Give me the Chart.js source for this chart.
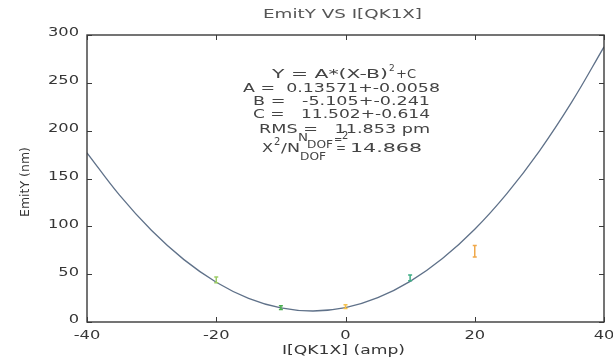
<!DOCTYPE html>
<html>
<head>
<meta charset="utf-8">
<script src="https://cdn.jsdelivr.net/npm/chart.js@4.4.1/dist/chart.umd.min.js"></script>
<style>
  html, body { margin: 0; background: #fff; }
  #wrap { width: 613px; height: 361px; }
</style>
</head>
<body>
<div id="wrap"><canvas id="emitChart" width="613" height="361"></canvas></div>
<script>
// ===== DATA =====
// parabola fit, sampled every 5 amp
const fitX = [-40, -35, -30, -25, -20, -15, -10, -5, 0, 5, 10, 15, 20, 25, 30, 35, 40];
const fitY = [176.8, 132.8, 95.6, 65.2, 41.6, 24.8, 14.8, 11.5, 15.0, 25.4, 42.5, 66.4, 97.0, 134.5, 178.7, 229.8, 287.6];

// measured emittance with error bars
const measX = [-20, -10, 0, 10, 20];
const measY = [44, 15, 16, 46, 74];
const measErr = [3, 2, 2, 3, 6];
const measColors = ["#9ccc65", "#4caf50", "#f5c04a", "#3fae86", "#f0a84a"];

const xTicks = [-40, -20, 0, 20, 40];
const yTicks = [0, 50, 100, 150, 200, 250, 300];

const titleText = "EmitY VS I[QK1X]";
const xTitle = "I[QK1X] (amp)";
const yTitle = "EmitY (nm)";

const FONT = "DejaVu Sans";
const TEXT_COLOR = "#363636";

// draw text squeezed/stretched horizontally to span x0..x1
function fitText(ctx, str, x0, x1, y) {
  const w = ctx.measureText(str).width;
  ctx.save();
  ctx.translate(x0, y);
  ctx.scale((x1 - x0) / w, 1);
  ctx.textAlign = "left";
  ctx.fillText(str, 0, 0);
  ctx.restore();
}

// stretched text centred on cx
function wideText(ctx, str, cx, y, k) {
  const w = ctx.measureText(str).width * k;
  fitText(ctx, str, cx - w / 2, cx + w / 2, y);
}

// ===== FRAME, TICKS, LABELS =====
const framePlugin = {
  id: "frame",
  afterDraw(chart) {
    const { ctx, chartArea: a, scales: { x, y } } = chart;
    ctx.save();
    ctx.strokeStyle = "#3a3a3a";
    ctx.lineWidth = 1.4;
    ctx.strokeRect(a.left, a.top, a.right - a.left, a.bottom - a.top);

    ctx.lineWidth = 1;
    ctx.beginPath();
    xTicks.forEach(v => {
      const px = Math.round(x.getPixelForValue(v)) + 0.5;
      ctx.moveTo(px, a.bottom); ctx.lineTo(px, a.bottom - 5);
      ctx.moveTo(px, a.top); ctx.lineTo(px, a.top + 5);
    });
    yTicks.forEach(v => {
      const py = Math.round(y.getPixelForValue(v)) + 0.5;
      ctx.moveTo(a.left, py); ctx.lineTo(a.left + 5, py);
      ctx.moveTo(a.right, py); ctx.lineTo(a.right - 5, py);
    });
    ctx.stroke();

    // tick labels
    ctx.fillStyle = TEXT_COLOR;
    ctx.font = `13px "${FONT}"`;
    ctx.textBaseline = "middle";
    xTicks.forEach(v => {
      wideText(ctx, String(v), x.getPixelForValue(v), a.bottom + 14, 1.25);
    });
    yTicks.forEach(v => {
      const s = String(v);
      const w = ctx.measureText(s).width * 1.25;
      fitText(ctx, s, a.left - 8 - w, a.left - 8, y.getPixelForValue(v) - 2);
    });

    // titles
    ctx.fillStyle = "#555";
    ctx.font = `13px "${FONT}"`;
    fitText(ctx, titleText, 263, 422, 15);
    ctx.fillStyle = TEXT_COLOR;
    fitText(ctx, xTitle, 282, 405, 351);
    ctx.save();
    ctx.translate(26, 182);
    ctx.rotate(-Math.PI / 2);
    ctx.font = `12.5px "${FONT}"`;
    ctx.textAlign = "center";
    ctx.fillText(yTitle, 0, 0);
    ctx.restore();

    // fit results
    ctx.fillStyle = "#444";
    ctx.font = `13px "${FONT}"`;
    fitText(ctx, "Y = A*(X-B)", 272, 388, 75);
    ctx.font = `9px "${FONT}"`;
    ctx.fillText("2", 389, 69);
    ctx.font = `13px "${FONT}"`;
    fitText(ctx, "+C", 396, 416, 75);
    fitText(ctx, "A =  0.13571+-0.0058", 243, 440, 89);
    fitText(ctx, "B =   -5.105+-0.241", 253, 430, 102);
    fitText(ctx, "C =   11.502+-0.614", 253, 430, 115);
    fitText(ctx, "RMS =   11.853 pm", 259, 430, 130);
    fitText(ctx, "X", 262, 273, 149);
    fitText(ctx, "/N", 281, 300, 149);
    fitText(ctx, "=", 336, 346, 149);
    fitText(ctx, "14.868", 350, 422, 149);
    ctx.font = `10px "${FONT}"`;
    ctx.fillText("2", 274, 142);
    fitText(ctx, "N", 298, 308, 138);
    fitText(ctx, "DOF", 307, 333, 145);
    fitText(ctx, "DOF", 300, 326, 157);
    ctx.fillText("=", 334, 140);
    ctx.fillText("2", 342, 136);
    ctx.restore();
  }
};

// ===== ERROR BARS =====
const errorBarPlugin = {
  id: "errorBars",
  afterDatasetsDraw(chart) {
    const { ctx, scales: { x, y } } = chart;
    ctx.save();
    ctx.lineWidth = 1.5;
    measX.forEach((v, i) => {
      const px = x.getPixelForValue(v);
      const lo = y.getPixelForValue(measY[i] - measErr[i]);
      const hi = y.getPixelForValue(measY[i] + measErr[i]);
      ctx.strokeStyle = measColors[i];
      ctx.beginPath();
      ctx.moveTo(px, lo); ctx.lineTo(px, hi);
      ctx.moveTo(px - 2, lo); ctx.lineTo(px + 2, lo);
      ctx.moveTo(px - 2, hi); ctx.lineTo(px + 2, hi);
      ctx.stroke();
    });
    ctx.restore();
  }
};

// ===== CHART =====
const ctx = document.getElementById("emitChart").getContext("2d");
new Chart(ctx, {
  type: "scatter",
  data: {
    datasets: [{
      label: "fit",
      data: fitX.map((v, i) => ({ x: v, y: fitY[i] })),
      showLine: true,
      borderColor: "#5f7189",
      borderWidth: 1.3,
      pointRadius: 0,
      tension: 0.4
    }]
  },
  options: {
    responsive: false,
    devicePixelRatio: 1,
    animation: false,
    layout: { padding: { top: 35, right: 9, left: 0, bottom: 0 } },
    plugins: { legend: { display: false }, tooltip: { enabled: false } },
    scales: {
      x: {
        type: "linear", min: -40, max: 40,
        ticks: { display: false, stepSize: 20 },
        grid: { display: false },
        border: { display: false },
        afterFit: s => { s.height = 39; }
      },
      y: {
        min: 0, max: 300,
        ticks: { display: false, stepSize: 50 },
        grid: { display: false },
        border: { display: false },
        afterFit: s => { s.width = 87; }
      }
    }
  },
  plugins: [errorBarPlugin, framePlugin]
});
</script>
</body>
</html>
